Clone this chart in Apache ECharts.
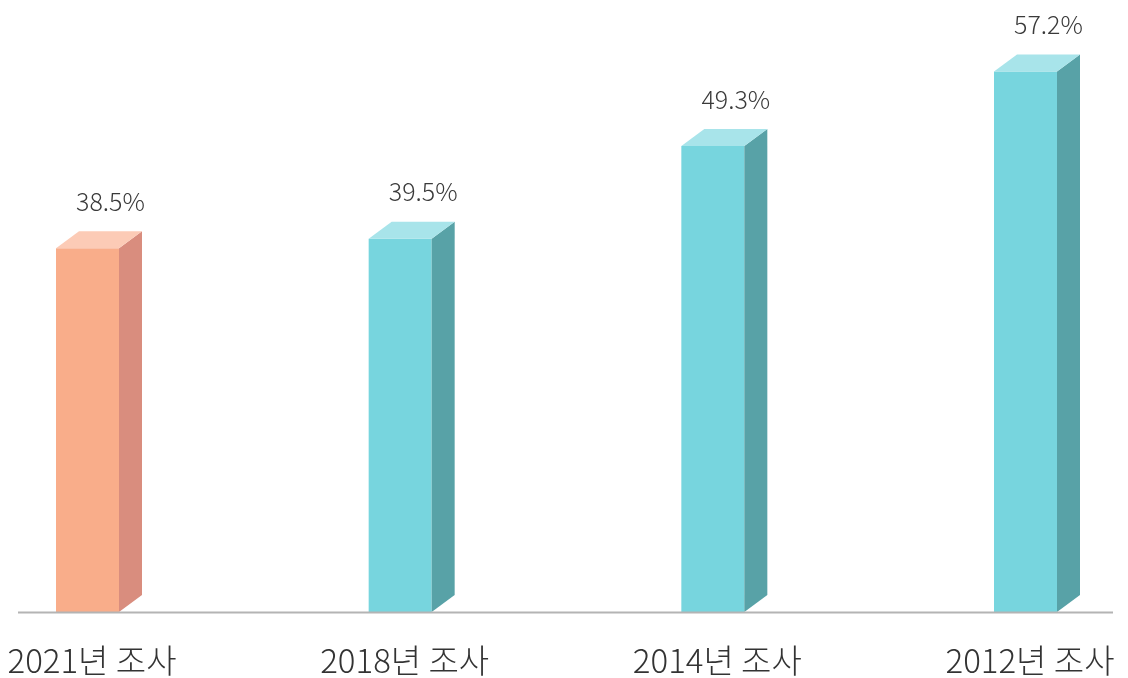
<!DOCTYPE html>
<html>
<head>
<meta charset="utf-8">
<script src="https://cdn.jsdelivr.net/npm/echarts@6/dist/echarts.min.js"></script>
<style>
  html, body { margin: 0; padding: 0; background: #fff; }
  #chart { width: 1128px; height: 678px; }
</style>
</head>
<body>
<div id="chart"></div>
<script>
// 조사 연도별 비율
const categories = ["2021년 조사", "2018년 조사", "2014년 조사", "2012년 조사"]
const values = [38.5, 39.5, 49.3, 57.2]

const FONT = '"Noto Sans CJK KR", "Noto Sans", sans-serif'
const currentIndex = 0 // 최근 조사만 주황색

const palettes = {
  current: { front: "#F9AD8A", top: "#FCCBB6", side: "#D98D7E" },
  other: { front: "#77D5DE", top: "#A8E4EA", side: "#58A2A7" }
}

const chart = echarts.init(document.getElementById("chart"))

const renderBar = (params, api) => {
  const x = api.value(0)
  const top = api.coord([x, api.value(1)])
  const base = api.coord([x, 0])
  const w = 63
  const dx = 23
  const dy = 17
  const left = top[0] - 36
  const right = left + w
  const c = params.dataIndex === currentIndex ? palettes.current : palettes.other
  return {
    type: "group",
    children: [
      {
        type: "polygon",
        shape: { points: [[left, top[1]], [right, top[1]], [right, base[1]], [left, base[1]]] },
        style: { fill: c.front }
      },
      {
        type: "polygon",
        shape: { points: [[right, top[1]], [right + dx, top[1] - dy], [right + dx, base[1] - dy], [right, base[1]]] },
        style: { fill: c.side }
      },
      {
        type: "polygon",
        shape: { points: [[left, top[1]], [left + dx, top[1] - dy], [right + dx, top[1] - dy], [right, top[1]]] },
        style: { fill: c.top }
      },
      {
        type: "text",
        x: (left + right) / 2 + dx,
        y: top[1] - dy - 30,
        style: {
          text: api.value(1).toFixed(1) + "%",
          fontSize: 25,
          fontWeight: 300,
          fontFamily: FONT,
          fill: "#3a3a3a",
          align: "center",
          verticalAlign: "middle"
        }
      }
    ]
  }
}

chart.setOption({
  animation: false,
  grid: { left: 92, right: 98, top: 45, bottom: 66 },
  xAxis: {
    type: "category",
    data: categories,
    boundaryGap: false,
    axisLine: { show: false },
    axisTick: { show: false },
    axisLabel: {
      margin: 32,
      fontSize: 33,
      fontWeight: 300,
      fontFamily: FONT,
      color: "#333"
    }
  },
  yAxis: {
    type: "value",
    min: 0,
    max: 60,
    show: false
  },
  graphic: [
    {
      type: "line",
      shape: { x1: 18, y1: 612.5, x2: 1113, y2: 612.5 },
      style: { stroke: "#b4b4b4", lineWidth: 2 },
      z: 10
    }
  ],
  series: [
    {
      type: "custom",
      renderItem: renderBar,
      encode: { x: 0, y: 1 },
      data: values.map((v, i) => [i, v])
    }
  ]
})
</script>
</body>
</html>
